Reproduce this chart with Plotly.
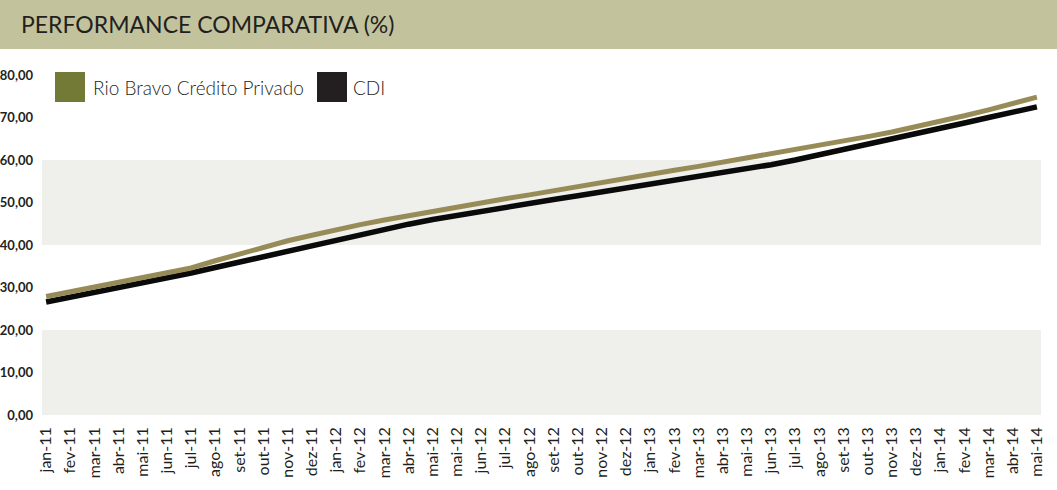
import plotly.graph_objects as go

# ---- data ----
months = ["jan-11", "fev-11", "mar-11", "abr-11", "mai-11", "jun-11", "jul-11", "ago-11",
          "set-11", "out-11", "nov-11", "dez-11", "jan-12", "fev-12", "mar-12", "abr-12",
          "mai-12", "mai-12", "jun-12", "jul-12", "ago-12", "set-12", "out-12", "nov-12",
          "dez-12", "jan-13", "fev-13", "mar-13", "abr-13", "mai-13", "jun-13", "jul-13",
          "ago-13", "set-13", "out-13", "nov-13", "dez-13", "jan-14", "fev-14", "mar-14",
          "abr-14", "mai-14"]

rio_bravo = [27.9, 29.0, 30.1, 31.2, 32.3, 33.4, 34.6, 36.3, 37.9, 39.6, 41.0, 42.3,
             43.6, 44.8, 45.9, 46.9, 48.0, 49.1, 50.0, 50.9, 51.8, 52.8, 53.7, 54.7,
             55.6, 56.6, 57.6, 58.5, 59.5, 60.5, 61.4, 62.3, 63.3, 64.4, 65.5, 66.6,
             67.8, 69.0, 70.4, 71.8, 73.3, 74.8]

cdi = [26.6, 27.7, 28.8, 29.9, 31.0, 32.2, 33.4, 34.7, 36.0, 37.3, 38.6, 39.9,
       41.2, 42.5, 43.8, 44.9, 46.0, 47.0, 48.0, 48.9, 49.8, 50.7, 51.6, 52.5,
       53.4, 54.3, 55.2, 56.1, 57.0, 57.8, 58.9, 60.0, 61.2, 62.5, 63.7, 64.9,
       66.2, 67.5, 68.7, 70.0, 71.2, 72.5]

y_ticks = [0, 10, 20, 30, 40, 50, 60, 70, 80]
bands = [(0, 20), (40, 60)]

series_names = ["Rio Bravo Crédito Privado", "CDI"]

# ---- layout geometry (pixels) ----
W, H = 1057, 490
L, R, T, B = 42, 16, 75, 75
PW = W - L - R
PH = H - T - B


def px_x(x):
    return (x - L) / PW


def px_y(y):
    return (H - B - y) / PH


FONT = "Lato"
TXT = "#231f20"
idx = list(range(len(months)))

fig = go.Figure()
fig.add_trace(go.Scatter(x=idx, y=cdi, mode="lines", name=series_names[1],
                         line=dict(color="#0a0a0a", width=5.5), showlegend=False))
fig.add_trace(go.Scatter(x=idx, y=rio_bravo, mode="lines", name=series_names[0],
                         line=dict(color="#978c58", width=5), showlegend=False))

shapes = []
for y0, y1 in bands:
    shapes.append(dict(type="rect", xref="paper", yref="y", x0=0, x1=1, y0=y0, y1=y1,
                       fillcolor="#efefeb", line=dict(width=0), layer="below"))
# header band
shapes.append(dict(type="rect", xref="paper", yref="paper", x0=px_x(0), x1=px_x(W),
                   y0=px_y(49), y1=px_y(0), fillcolor="#c2c39c", line=dict(width=0),
                   layer="below"))
# legend swatches
shapes.append(dict(type="rect", xref="paper", yref="paper", x0=px_x(55), x1=px_x(85),
                   y0=px_y(102), y1=px_y(72), fillcolor="#737a35", line=dict(width=0)))
shapes.append(dict(type="rect", xref="paper", yref="paper", x0=px_x(317), x1=px_x(347),
                   y0=px_y(102), y1=px_y(72), fillcolor="#231f20", line=dict(width=0)))

annotations = [
    dict(text="PERFORMANCE COMPARATIVA (%)", xref="paper", yref="paper",
         x=px_x(19), y=px_y(24), xanchor="left", yanchor="middle", showarrow=False,
         font=dict(family=FONT, size=23, color=TXT)),
    dict(text=series_names[0], xref="paper", yref="paper",
         x=px_x(91), y=px_y(87), xanchor="left", yanchor="middle", showarrow=False,
         font=dict(family=FONT, size=19, color=TXT, weight=300)),
    dict(text=series_names[1], xref="paper", yref="paper",
         x=px_x(351), y=px_y(87), xanchor="left", yanchor="middle", showarrow=False,
         font=dict(family=FONT, size=19, color=TXT, weight=300)),
]

fig.update_layout(
    template="none",
    width=W, height=H,
    margin=dict(l=L, r=R, t=T, b=B, pad=0, autoexpand=False),
    paper_bgcolor="white", plot_bgcolor="white",
    separators=",.",
    shapes=shapes, annotations=annotations,
    showlegend=False,
    xaxis=dict(range=[-0.17, len(months) - 1 + 0.17], tickmode="array", tickvals=idx,
               ticktext=months, tickangle=-90, showgrid=False, zeroline=False,
               showline=False, ticks="", ticklabelstandoff=8, automargin=False,
               tickfont=dict(family=FONT, size=16, color=TXT)),
    yaxis=dict(range=[0, 80], tickmode="array", tickvals=y_ticks, tickformat=".2f",
               showgrid=False, zeroline=False, showline=False, ticks="",
               ticklabelstandoff=8, automargin=False,
               tickfont=dict(family=FONT, size=13, color=TXT, weight="bold")),
)

fig.write_html("out.html", config={"displayModeBar": False},
               post_script="document.body.style.margin='0px';")
